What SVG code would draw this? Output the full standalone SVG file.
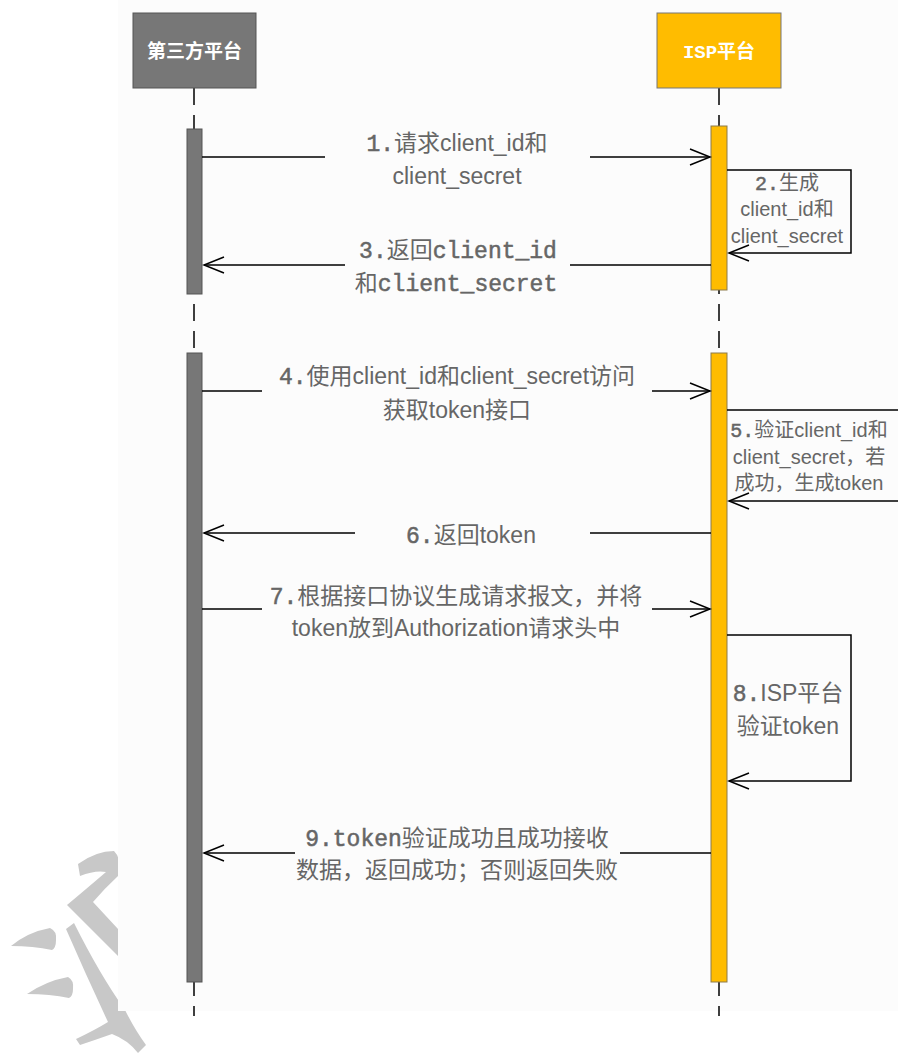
<svg xmlns="http://www.w3.org/2000/svg" width="898" height="1061" viewBox="0 0 898 1061">
<style>
.lbl{font-family:"Liberation Sans","Noto Sans CJK SC",sans-serif;font-size:23px;fill:#666;text-anchor:middle}
.sm{font-size:20px}
.mono{font-family:"Liberation Mono","Noto Sans CJK SC",monospace;stroke:#666;stroke-width:0.5}
.hdr{font-family:"Noto Sans CJK SC",sans-serif;font-size:19px;font-weight:bold;fill:#fff;text-anchor:middle}
.life{stroke:#000;stroke-width:1.5;stroke-dasharray:17 10;fill:none}
.msg{stroke:#000;stroke-width:1.5;fill:none}
.gbar{fill:#777;stroke:#555;stroke-width:1}
.ybar{fill:#FFBC00;stroke:#8c7a4a;stroke-width:1}
.wm{fill:#c8c8c8}
</style>
<defs>
<marker id="arr" viewBox="-22 -10 24 20" refX="0" refY="0" markerWidth="24" markerHeight="20" orient="auto" markerUnits="userSpaceOnUse">
<path d="M-20,-8 L0,0 L-20,8" fill="none" stroke="#000" stroke-width="1.5"/>
</marker>
</defs>
<rect width="898" height="1061" fill="#fff"/>
<g id="watermark">
<path class="wm" d="M11,946 Q28,932 50,928 Q57,931 56,940 Q56,948 52,950 Q33,946 11,946 Z"/>
<path class="wm" d="M27,994 Q46,981 68,977 Q74,980 73,989 Q73,996 69,998 Q50,994 27,994 Z"/>
<path class="wm" d="M66,929 L74,923 Q100,975 125,1010 Q135,1030 146,1045 L138,1053 Q128,1040 112,1034 Q95,1040 80,1045 L76,1039 Q95,1030 108,1022 Q86,975 66,929 Z"/>
<path class="wm" d="M78,864 Q96,851 114,851 Q121,858 119,870 L118,876 Q104,889 93,902 L118,929 L118,956 L67,905 Q85,890 106,872 Q95,870 80,876 Z"/>
</g>
<rect x="118" y="0" width="780" height="1011" fill="#fcfcfc"/>
<g id="lifelines">
<line class="life" x1="194" y1="88" x2="194" y2="1016"/>
<line class="life" x1="719" y1="88" x2="719" y2="1016"/>
</g>
<g id="third-party">
<rect x="133" y="13" width="123" height="75" fill="#777" stroke="#555" stroke-width="1"/>
<text class="hdr" x="194.5" y="58">第三方平台</text>
<rect class="gbar" x="187" y="129" width="15" height="165"/>
<rect class="gbar" x="187" y="353" width="15" height="629"/>
</g>
<g id="isp">
<rect x="657" y="13" width="124" height="75" fill="#FFBC00" stroke="#777" stroke-width="1"/>
<text class="hdr" x="719" y="58"><tspan font-family="Liberation Mono,monospace">ISP</tspan>平台</text>
<rect class="ybar" x="711" y="126" width="16" height="164"/>
<rect class="ybar" x="711" y="353" width="16" height="629"/>
</g>
<g id="connectors">
<line class="msg" x1="202" y1="157" x2="325" y2="157"/>
<line class="msg" x1="590" y1="157" x2="710" y2="157" marker-end="url(#arr)"/>
<path class="msg" d="M727,170 H851 V253 H729" marker-end="url(#arr)"/>
<line class="msg" x1="711" y1="265" x2="570" y2="265"/>
<line class="msg" x1="345" y1="265" x2="204" y2="265" marker-end="url(#arr)"/>
<line class="msg" x1="202" y1="391" x2="262" y2="391"/>
<line class="msg" x1="652" y1="391" x2="710" y2="391" marker-end="url(#arr)"/>
<path class="msg" d="M727,410 H910 V501 H729" marker-end="url(#arr)"/>
<line class="msg" x1="711" y1="533" x2="590" y2="533"/>
<line class="msg" x1="355" y1="533" x2="204" y2="533" marker-end="url(#arr)"/>
<line class="msg" x1="202" y1="609" x2="262" y2="609"/>
<line class="msg" x1="652" y1="609" x2="710" y2="609" marker-end="url(#arr)"/>
<path class="msg" d="M727,635 H851 V781 H729" marker-end="url(#arr)"/>
<line class="msg" x1="711" y1="853" x2="620" y2="853"/>
<line class="msg" x1="295" y1="853" x2="204" y2="853" marker-end="url(#arr)"/>
</g>
<g id="labels">
<text class="lbl" x="457" y="151"><tspan class="mono">1.</tspan>请求client_id和</text>
<text class="lbl" x="457" y="184">client_secret</text>
<text class="lbl sm" x="787" y="190"><tspan class="mono">2.</tspan>生成</text>
<text class="lbl sm" x="787" y="216">client_id和</text>
<text class="lbl sm" x="787" y="243">client_secret</text>
<text class="lbl" x="458" y="258"><tspan class="mono">3.</tspan>返回<tspan class="mono">client_id</tspan></text>
<text class="lbl" x="456" y="291">和<tspan class="mono">client_secret</tspan></text>
<text class="lbl" x="457" y="384"><tspan class="mono">4.</tspan>使用client_id和client_secret访问</text>
<text class="lbl" x="457" y="418">获取token接口</text>
<text class="lbl sm" x="809" y="437"><tspan class="mono">5.</tspan>验证client_id和</text>
<text class="lbl sm" x="809" y="464">client_secret，若</text>
<text class="lbl sm" x="809" y="490">成功，生成token</text>
<text class="lbl" x="471" y="543"><tspan class="mono">6.</tspan>返回token</text>
<text class="lbl" x="456" y="604"><tspan class="mono">7.</tspan>根据接口协议生成请求报文，并将</text>
<text class="lbl" x="456" y="636">token放到Authorization请求头中</text>
<text class="lbl" x="788" y="701"><tspan class="mono">8.</tspan>ISP平台</text>
<text class="lbl" x="788" y="734">验证token</text>
<text class="lbl" x="457" y="846"><tspan class="mono">9.token</tspan>验证成功且成功接收</text>
<text class="lbl" x="457" y="878">数据，返回成功；否则返回失败</text>
</g>
</svg>
